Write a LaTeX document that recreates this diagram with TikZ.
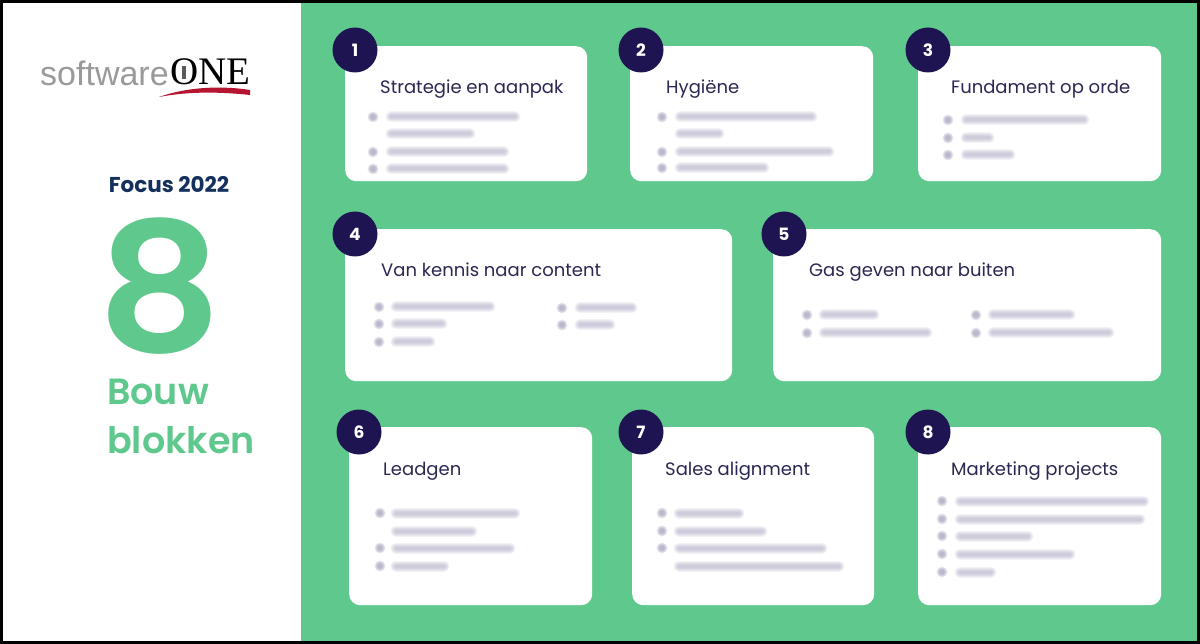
\documentclass[tikz,border=0pt]{standalone}
\usepackage{fontspec}
\setmainfont{Poppins}
\newfontfamily\semifont{Poppins SemiBold}
\newfontfamily\logofont{Liberation Sans}
\newfontfamily\logoserif{Liberation Serif}
\usetikzlibrary{positioning}
\definecolor{blokgreen}{HTML}{5FC88C}
\definecolor{bloknavy}{HTML}{1F1452}
\definecolor{titlenavy}{HTML}{2B2753}
\definecolor{focusnavy}{HTML}{14305C}
\definecolor{blurlilac}{HTML}{8C88AC}
\definecolor{logored}{HTML}{B5152F}
\definecolor{logogray}{HTML}{9A9A9A}
\tikzset{
  card/.style={fill=white, rounded corners=11pt, anchor=north west, inner sep=0pt},
  badge/.style={circle, fill=bloknavy, minimum size=45pt, inner sep=0pt, text=white, font=\fontsize{17}{17}\selectfont\bfseries},
  cardtitle/.style={anchor=base west, inner sep=0pt, text=titlenavy, font=\fontsize{18}{18}\selectfont},
  greentext/.style={anchor=base west, inner sep=0pt, text=blokgreen, font=\semifont\fontsize{36.5}{36.5}\selectfont},
  blur/.style={blurlilac, line cap=round, opacity=.1}
}
% one blurred line of small print: start, end, height
\newcommand{\blurline}[3]{
  \foreach \wd in {11,9,7,5,3} \draw[blur, line width=\wd pt] (#1+3,#3) -- (#2-3,#3);
}
\newcommand{\blurbullet}[2]{
  \foreach \wd in {5.5,4.5,3.5,2.5} \fill[blur, opacity=.2] (#1,#2) circle (\wd pt);
}
\begin{document}
\begin{tikzpicture}[x=1pt,y=-1pt]
  \useasboundingbox (0,0) rectangle (1200,644);
  \fill[black] (0,0) rectangle (1200,644);
  \fill[white] (3,3) rectangle (301,641);
  \fill[blokgreen] (301,3) rectangle (1197,641);

  % logo
  \node[anchor=base west, inner sep=0pt, text=logogray, font=\logofont\fontsize{34}{34}\selectfont] (logosoft) at (40,86) {software};
  \node[anchor=base west, inner sep=0pt, text=black, font=\logoserif\fontsize{39}{39}\selectfont] (logoone) at (170,85) {ONE};
  \fill[black!65] (182,66) rectangle (186,79);
  \fill[logored] (159,97) .. controls (190,86) and (225,86) .. (250,90) -- (250,95) .. controls (222,92) and (190,91) .. (159,97) -- cycle;

  % left column
  \node[inner sep=0pt, text=focusnavy, font=\fontsize{21.5}{21.5}\selectfont\bfseries] (focus) at (169,185) {Focus 2022};
  \node[anchor=base, inner sep=0pt, xscale=4.85, yscale=4.5, text=blokgreen, font=\semifont\fontsize{40}{40}\selectfont] (bignum) at (159.5,352) {8};
  \node[greentext] (bouw) at (107,405) {Bouw};
  \node[greentext] (blokken) at (107,453) {blokken};

  % cards and their badges
  \foreach \n/\x/\y/\w/\h/\cx/\cy in {
    1/345/46/242/135/355/50, 2/630/46/243/135/641/50, 3/918/46/243/135/928/50,
    4/345/229/387/152/355/234, 5/773/229/388/152/784/234,
    6/349/427/243/178/359/432, 7/632/427/242/178/641/432, 8/918/427/243/178/928/432} {
    \node[card, minimum width=\w pt, minimum height=\h pt] (card\n) at (\x,\y) {};
    \node[badge] (badge\n) at (\cx,\cy) {\n};
  }

  % titles
  \node[cardtitle] (title1) at (380,94) {Strategie en aanpak};
  \node[cardtitle] (title2) at (666,94) {Hygiëne};
  \node[cardtitle] (title3) at (951,94) {Fundament op orde};
  \node[cardtitle] (title4) at (381,277) {Van kennis naar content};
  \node[cardtitle] (title5) at (809,277) {Gas geven naar buiten};
  \node[cardtitle] (title6) at (383,475) {Leadgen};
  \node[cardtitle] (title7) at (665,475) {Sales alignment};
  \node[cardtitle] (title8) at (951,475) {Marketing projects};

  % blurred small print
  \foreach \b/\y in {373/117,373/152,373/169,662/117,662/152,662/168,948/120,948/138,948/155,
    379/307,379/324,379/342,562/308,562/325,807/315,807/333,976/315,976/333,
    380/513,380/548,380/566,662/513,662/531,662/548,942/501,942/519,942/536,942/554,942/572}
    \blurbullet{\b}{\y};
  \foreach \a/\b/\y in {388/518/117,388/473/134,388/507/152,388/507/169,
    677/815/117,677/722/134,677/832/152,677/767/168,
    963/1087/120,963/992/138,963/1013/155,
    393/493/307,393/445/324,393/433/342,577/635/308,577/613/325,
    821/877/315,821/930/333,990/1073/315,990/1112/333,
    393/518/513,393/475/531,393/513/548,393/447/566,
    676/742/513,676/765/531,676/825/548,676/842/566,
    957/1147/501,957/1143/519,957/1031/536,957/1073/554,957/994/572}
    \blurline{\a}{\b}{\y};
\end{tikzpicture}
\end{document}
